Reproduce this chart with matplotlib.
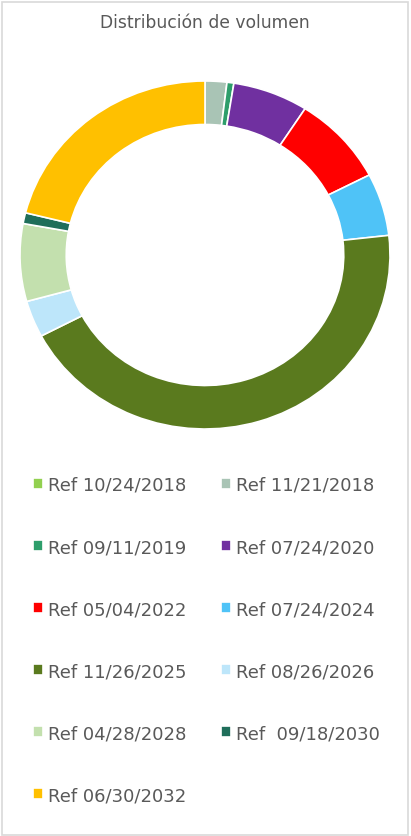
import matplotlib.pyplot as plt
from matplotlib.patches import Rectangle

labels = ['Ref 10/24/2018', 'Ref 11/21/2018', 'Ref 09/11/2019', 'Ref 07/24/2020',
          'Ref 05/04/2022', 'Ref 07/24/2024', 'Ref 11/26/2025', 'Ref 08/26/2026',
          'Ref 04/28/2028', 'Ref  09/18/2030', 'Ref 06/30/2032']
volumes = [0.0, 1.9, 0.6, 6.6, 8.3, 5.8, 44.1, 3.4, 7.2, 1.0, 21.1]
colors = ['#92D050', '#A9C4B5', '#2E9E6B', '#7030A0', '#FF0000', '#4FC3F7',
          '#5A7A1E', '#BDE6FA', '#C3E0AE', '#1F6E5A', '#FFC000']

W, H = 411, 837
fig = plt.figure(figsize=(W / 100, H / 100), dpi=100)

# outer frame of the chart area
fig.patches.append(Rectangle((2 / W, 1 / H), (W - 5) / W, (H - 4) / H,
                             transform=fig.transFigure, fill=False,
                             edgecolor='#D9D9D9', linewidth=1.2))

cx, cy, rx, ry = 205, 256, 185, 174
ax = fig.add_axes([(cx - rx) / W, (H - cy - ry) / H, 2 * rx / W, 2 * ry / H])
wedges, _ = ax.pie(volumes, colors=colors, startangle=90, counterclock=False,
                   radius=1.0, wedgeprops=dict(width=0.25, edgecolor='white', linewidth=1.2))
ax.set_aspect('auto')
ax.set_xlim(-1, 1)
ax.set_ylim(-1, 1)
ax.axis('off')

fig.text(cx / W, 1 - 23 / H, 'Distribución de volumen', ha='center', va='center',
         fontsize=12.3, color='#595959')

# legend filled row-wise: reorder for matplotlib's column-wise filling
order = [0, 2, 4, 6, 8, 10, 1, 3, 5, 7, 9]
leg = fig.legend([wedges[i] for i in order], [labels[i] for i in order],
                 ncol=2, loc='upper left', bbox_to_anchor=(33 / W, 1 - 477 / H),
                 frameon=False, fontsize=13, labelcolor='#595959',
                 handlelength=0.55, handleheight=0.55, handletextpad=0.3,
                 labelspacing=2.44, columnspacing=1.9, borderpad=0, borderaxespad=0)

fig.savefig('out.png', dpi=100)
